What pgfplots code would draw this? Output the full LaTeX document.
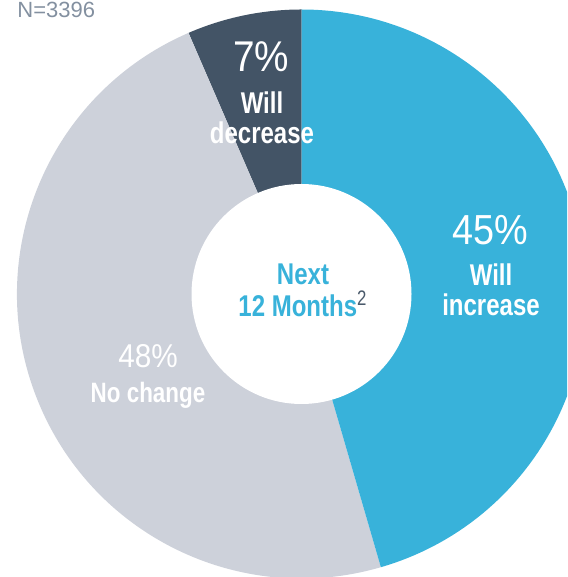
\documentclass[border=0pt]{standalone}
\usepackage{pgfplots}
\usepackage{pgfplotstable}
\pgfplotsset{compat=1.18}
\usepackage{fontspec}
\setmainfont{Liberation Sans}[FakeStretch=0.9]
\newfontfamily\condb{Liberation Sans}[FakeStretch=0.8]
\newfontfamily\plain{Liberation Sans}
\definecolor{cblue}{HTML}{38B2DA}
\definecolor{cdark}{HTML}{435466}
\definecolor{cgrey}{HTML}{CDD1DA}
\definecolor{ctext}{HTML}{8390A0}
\definecolor{csup}{HTML}{4A5A6B}

% share of the ring as drawn, percent, counterclockwise from 12 o'clock
% (printed labels: 7%, 48%, 45%)
\pgfplotstableread{
label pct
decrease 6.5
nochange 48.0
increase 45.5
}\slices

\begin{document}
\begin{tikzpicture}
\pgfplotstablegetelem{0}{pct}\of\slices\edef\pA{\pgfplotsretval}
\pgfplotstablegetelem{1}{pct}\of\slices\edef\pB{\pgfplotsretval}
\pgfplotstablegetelem{2}{pct}\of\slices\edef\pC{\pgfplotsretval}
\pgfmathsetmacro\aA{90}
\pgfmathsetmacro\aB{\aA+3.6*\pA}
\pgfmathsetmacro\aC{\aB+3.6*\pB}
\pgfmathsetmacro\aD{\aC+3.6*\pC}
\begin{axis}[
  at={(0,0)}, anchor=south west,
  scale only axis, width=283.5pt, height=288.5pt,
  xmin=0, xmax=567, ymin=0, ymax=577,
  hide axis, clip=true,
]
\addplot[draw=none] coordinates {(0,0) (567,577)};
\fill[overlay,cdark] (axis cs:301.5,283) -- ++(\aA:142.25pt) arc[start angle=\aA, end angle=\aB, radius=142.25pt] -- cycle;
\fill[overlay,cgrey] (axis cs:301.5,283) -- ++(\aB:142.25pt) arc[start angle=\aB, end angle=\aC, radius=142.25pt] -- cycle;
\fill[overlay,cblue] (axis cs:301.5,283) -- ++(\aC:142.25pt) arc[start angle=\aC, end angle=\aD, radius=142.25pt] -- cycle;
\fill[overlay,white] (axis cs:301.5,283) circle[radius=55pt];

\node[anchor=base west, text=ctext, inner sep=0pt, font=\plain\fontsize{11}{11}\selectfont] at (axis cs:17,559) {N=3396};

\node[anchor=base, text=white, inner sep=0pt, font=\fontsize{21.5}{21.5}\selectfont] at (axis cs:261,505) {7\%};
\node[anchor=center, text=white, inner sep=0pt, align=center, font=\condb\bfseries\fontsize{15}{15}\selectfont] at (axis cs:262,459) {Will\\decrease};

\node[anchor=base, text=white, inner sep=0pt, font=\fontsize{21}{21}\selectfont] at (axis cs:490,332) {45\%};
\node[anchor=center, text=white, inner sep=0pt, align=center, font=\condb\bfseries\fontsize{15}{15}\selectfont] at (axis cs:491,287) {Will\\increase};

\node[anchor=base, text=white, inner sep=0pt, font=\fontsize{16.5}{16.5}\selectfont] at (axis cs:148,209) {48\%};
\node[anchor=base, text=white, inner sep=0pt, font=\condb\bfseries\fontsize{14}{14}\selectfont] at (axis cs:148,174) {No change};

\node[anchor=center, text=cblue, inner sep=0pt, align=center, font=\condb\bfseries\fontsize{15}{16}\selectfont] at (axis cs:303,287) {Next\\12 Months\textsuperscript{\textcolor{csup}{\mdseries 2}}};
\end{axis}
\end{tikzpicture}
\end{document}
